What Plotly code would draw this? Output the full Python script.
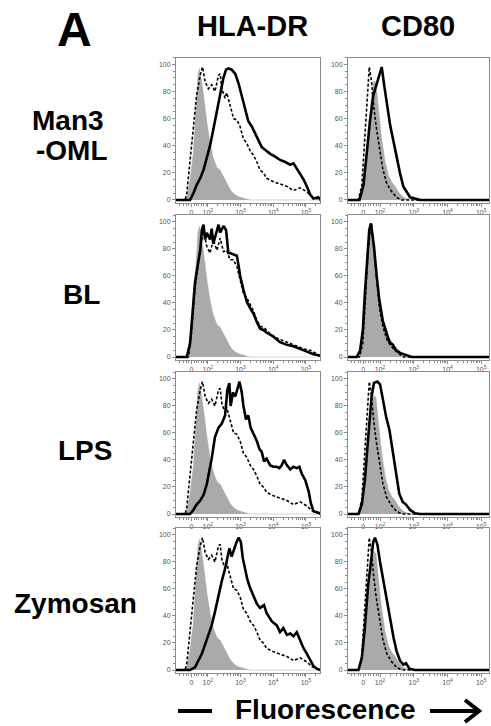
import math
import plotly.graph_objects as go

W, H = 491, 726

# ---------------- text ----------------
COL_TITLES = ["HLA-DR", "CD80"]
ROW_LABELS = [["Man3", "-OML"], ["BL"], ["LPS"], ["Zymosan"]]
X_TICK_VALS = [1.5, 2, 3, 4, 5]
X_TICK_TEXT = ["0", "10<sup>2</sup>", "10<sup>3</sup>", "10<sup>4</sup>", "10<sup>5</sup>"]
Y_TICK_VALS = [0, 20, 40, 60, 80, 100]

# ---------------- data ----------------
# (fluorescence on the logicle display scale in decades, % of max)
HLA_ISO = [(1.03, 0), (1.30, 0), (1.36, 2), (1.46, 15), (1.56, 35), (1.62, 60), (1.66, 80), (1.70, 92),
           (1.75, 97), (1.80, 90), (1.87, 78), (1.97, 58), (2.07, 42), (2.17, 31), (2.28, 24), (2.38, 22),
           (2.48, 17), (2.58, 12), (2.68, 8), (2.78, 5), (2.89, 3), (2.99, 2), (3.14, 1), (3.29, 0), (5.45, 0)]

HLA_CTRL = [(1.03, 0), (1.31, 0), (1.36, 5), (1.46, 28), (1.56, 55), (1.66, 77), (1.77, 92), (1.84, 98),
            (1.92, 87), (2.02, 82), (2.12, 85), (2.22, 80), (2.33, 92), (2.38, 93), (2.43, 82), (2.53, 75),
            (2.58, 79), (2.68, 70), (2.79, 60), (2.89, 59), (2.99, 54), (3.09, 45), (3.19, 42), (3.30, 36),
            (3.40, 33), (3.50, 28), (3.60, 22), (3.70, 20), (3.80, 16), (4.01, 13.5), (4.21, 12), (4.42, 10),
            (4.62, 7), (4.82, 9), (5.03, 6), (5.18, 2.5), (5.33, 1), (5.45, 0)]

HLA_MAN3 = [(1.03, 0), (1.46, 0), (1.56, 5), (1.66, 11), (1.77, 16), (1.87, 22), (1.97, 31), (2.07, 40),
            (2.17, 52), (2.28, 65), (2.38, 77), (2.48, 90), (2.56, 96), (2.63, 97), (2.73, 96), (2.84, 93),
            (2.94, 86), (3.04, 77), (3.14, 66), (3.24, 58), (3.35, 54), (3.45, 49), (3.55, 44), (3.65, 39),
            (3.75, 37), (3.91, 34), (4.06, 32), (4.21, 29.5), (4.37, 28), (4.52, 26), (4.62, 27), (4.72, 23),
            (4.82, 20), (4.93, 15), (5.03, 10), (5.13, 4), (5.23, 1), (5.38, 2), (5.45, 0)]

HLA_BL_CTRL = [(1.03, 0), (1.41, 0), (1.51, 20), (1.56, 35), (1.61, 50), (1.71, 70), (1.82, 86), (1.87, 94),
               (1.97, 82), (2.07, 77), (2.17, 87), (2.28, 79), (2.38, 88), (2.48, 78), (2.58, 79), (2.68, 72),
               (2.78, 72), (2.89, 67), (2.99, 57), (3.09, 47), (3.19, 44), (3.30, 39), (3.40, 34), (3.50, 27),
               (3.60, 23), (3.75, 21), (3.91, 17), (4.11, 14), (4.31, 12), (4.52, 10), (4.72, 8), (4.93, 6),
               (5.13, 5), (5.28, 3), (5.45, 0)]

HLA_BL = [(1.03, 0), (1.36, 0), (1.46, 10), (1.51, 27), (1.56, 42), (1.61, 55), (1.66, 63), (1.77, 79),
          (1.82, 94), (1.87, 98), (1.92, 87), (1.97, 92), (2.07, 87), (2.12, 95), (2.17, 84), (2.28, 94),
          (2.33, 98), (2.38, 92), (2.48, 97), (2.56, 94), (2.63, 77), (2.68, 77), (2.78, 76), (2.89, 75),
          (2.94, 68), (2.99, 60), (3.09, 50), (3.19, 41), (3.30, 36), (3.40, 32), (3.50, 26), (3.60, 21),
          (3.70, 20), (3.80, 18), (4.01, 15), (4.21, 11), (4.42, 9), (4.62, 8), (4.82, 6), (5.03, 4),
          (5.23, 2), (5.45, 1)]

HLA_LPS = [(1.03, 0), (1.46, 0), (1.56, 3), (1.66, 7), (1.77, 10), (1.87, 14), (1.97, 22), (2.07, 33),
           (2.12, 41), (2.22, 57), (2.33, 64), (2.43, 67), (2.53, 73), (2.60, 92), (2.66, 97), (2.70, 80),
           (2.77, 90), (2.84, 87), (2.91, 93), (2.97, 98), (3.04, 90), (3.09, 80), (3.17, 70), (3.24, 73),
           (3.31, 64), (3.40, 59), (3.50, 54), (3.58, 48), (3.65, 46), (3.72, 39), (3.80, 41), (3.91, 36),
           (4.01, 35), (4.11, 35), (4.19, 34), (4.26, 36), (4.33, 40), (4.42, 36), (4.52, 33), (4.62, 35),
           (4.72, 34), (4.80, 35), (4.87, 30), (4.98, 25), (5.08, 17), (5.15, 8), (5.23, 2), (5.38, 1),
           (5.45, 0)]

HLA_ZYM = [(1.03, 0), (1.46, 0), (1.61, 2), (1.71, 7), (1.82, 12), (1.92, 19), (2.02, 26), (2.12, 33),
           (2.22, 43), (2.33, 56), (2.43, 66), (2.53, 75), (2.60, 84), (2.66, 90), (2.73, 84), (2.78, 88),
           (2.87, 94), (2.94, 98), (3.01, 95), (3.07, 83), (3.14, 75), (3.21, 67), (3.29, 61), (3.40, 54),
           (3.50, 49), (3.60, 46), (3.72, 48), (3.80, 42), (3.96, 36), (4.11, 33), (4.21, 28), (4.31, 31),
           (4.42, 26), (4.52, 27), (4.62, 25), (4.72, 28), (4.82, 22), (4.93, 16), (5.03, 12), (5.13, 7),
           (5.23, 3), (5.33, 1), (5.45, 0)]

CD80_ISO = [(1.03, 0), (1.31, 0), (1.41, 4), (1.51, 14), (1.60, 34), (1.68, 58), (1.75, 78), (1.82, 88),
            (1.88, 86), (1.95, 68), (2.05, 45), (2.15, 28), (2.25, 18), (2.35, 13), (2.45, 10), (2.54, 6),
            (2.69, 2), (2.89, 0), (5.25, 0)]

CD80_ISO_BL = [(1.03, 0), (1.35, 0), (1.46, 5), (1.55, 35), (1.62, 65), (1.68, 87), (1.73, 94), (1.78, 84),
               (1.85, 67), (1.95, 42), (2.05, 27), (2.15, 19), (2.25, 15), (2.35, 11), (2.45, 8), (2.59, 4),
               (2.79, 0), (5.25, 0)]

CD80_CTRL = [(1.03, 0), (1.36, 0), (1.46, 11), (1.55, 45), (1.62, 77), (1.68, 98), (1.75, 87), (1.80, 72),
             (1.88, 55), (1.98, 38), (2.08, 23), (2.20, 12), (2.35, 6), (2.49, 2), (2.64, 0), (5.25, 0)]

CD80_MAN3 = [(1.03, 0), (1.39, 0), (1.51, 11), (1.60, 33), (1.70, 58), (1.80, 77), (1.90, 86), (1.98, 92),
             (2.05, 98), (2.12, 85), (2.20, 70), (2.30, 55), (2.40, 43), (2.49, 31), (2.59, 20), (2.69, 10),
             (2.79, 6), (2.89, 2), (3.04, 1), (3.19, 0), (5.25, 0)]

CD80_BL_CTRL = [(1.03, 0), (1.39, 0), (1.49, 10), (1.57, 45), (1.65, 79), (1.70, 92), (1.75, 98), (1.80, 84),
                (1.88, 62), (1.98, 37), (2.08, 23), (2.20, 13), (2.30, 9), (2.40, 6), (2.54, 3), (2.69, 0),
                (5.25, 0)]

CD80_BL = [(1.03, 0), (1.31, 0), (1.41, 5), (1.49, 20), (1.55, 47), (1.62, 77), (1.68, 94), (1.73, 99),
           (1.78, 89), (1.82, 82), (1.90, 60), (1.98, 42), (2.08, 27), (2.18, 18), (2.28, 11), (2.38, 9),
           (2.47, 5), (2.59, 3), (2.74, 1.5), (2.94, 0), (5.25, 0)]

CD80_LPS = [(1.03, 0), (1.36, 0), (1.46, 7), (1.55, 25), (1.65, 57), (1.75, 87), (1.82, 97), (1.92, 98),
            (2.00, 96), (2.08, 85), (2.18, 72), (2.28, 62), (2.35, 50), (2.42, 40), (2.49, 28), (2.57, 15),
            (2.67, 9), (2.77, 7), (2.89, 3), (3.04, 0.5), (3.19, 0), (5.25, 0)]

CD80_ZYM = [(1.03, 0), (1.36, 0), (1.46, 9), (1.55, 31), (1.65, 63), (1.73, 83), (1.80, 95), (1.85, 98),
            (1.92, 93), (2.00, 80), (2.10, 66), (2.20, 51), (2.30, 36), (2.40, 24), (2.49, 14), (2.59, 7),
            (2.69, 4), (2.77, 5), (2.87, 1), (3.04, 0), (5.25, 0)]

# panel contents: (isotype filled, control dashed, stimulated solid)
PANELS = [
    [(HLA_ISO, HLA_CTRL, HLA_MAN3), (CD80_ISO, CD80_CTRL, CD80_MAN3)],
    [(HLA_ISO, HLA_BL_CTRL, HLA_BL), (CD80_ISO_BL, CD80_BL_CTRL, CD80_BL)],
    [(HLA_ISO, HLA_CTRL, HLA_LPS), (CD80_ISO, CD80_CTRL, CD80_LPS)],
    [(HLA_ISO, HLA_CTRL, HLA_ZYM), (CD80_ISO, CD80_CTRL, CD80_ZYM)],
]

# ---------------- geometry (pixels) ----------------
COL_X = [(176, 320), (348, 489)]
X_RANGES = [(1.03, 5.43), (1.05, 5.23)]
ROW_Y = [(57.5, 202.7), (215.2, 359.7), (372.2, 516.7), (528.2, 672.7)]
Y_RANGE = (-2, 105)

FONT = "Liberation Sans, Arial, Helvetica, sans-serif"
GREY_FILL = "#aaaaaa"
AXIS_GREY = "#8c8c8c"
TICK_FONT = dict(family=FONT, size=7, color="#555555")

X_MINOR = [1.15, 1.25, 1.35, 1.42, 1.58, 1.65, 1.72, 1.8, 1.88, 1.95]
for k in (2, 3, 4):
    for m in range(2, 10):
        X_MINOR.append(k + math.log10(m))
X_MINOR.append(5 + math.log10(2))


def px(x):
    return x / W


def py(y):
    return 1 - y / H


def xy(pts):
    return [p[0] for p in pts], [p[1] for p in pts]


fig = go.Figure()
layout = {}
for r in range(4):
    for c in range(2):
        k = r * 2 + c + 1
        xa = "x" if k == 1 else f"x{k}"
        ya = "y" if k == 1 else f"y{k}"
        iso, ctrl, stim = PANELS[r][c]
        gx, gy = xy(iso)
        fig.add_trace(go.Scatter(x=gx, y=gy, mode="lines", fill="tozeroy", fillcolor=GREY_FILL,
                                 line=dict(color=GREY_FILL, width=0.5), xaxis=xa, yaxis=ya,
                                 showlegend=False, hoverinfo="skip"))
        dx, dy = xy(ctrl)
        fig.add_trace(go.Scatter(x=dx, y=dy, mode="lines",
                                 line=dict(color="black", width=1.6, dash="3px,2px"),
                                 xaxis=xa, yaxis=ya, showlegend=False, hoverinfo="skip"))
        sx, sy = xy(stim)
        fig.add_trace(go.Scatter(x=sx, y=sy, mode="lines",
                                 line=dict(color="black", width=2.6),
                                 xaxis=xa, yaxis=ya, showlegend=False, hoverinfo="skip"))
        x0, x1 = COL_X[c]
        y0, y1 = ROW_Y[r]
        layout["xaxis" if k == 1 else f"xaxis{k}"] = dict(
            domain=[px(x0), px(x1)], range=list(X_RANGES[c]), anchor=ya,
            showgrid=False, zeroline=False, showline=True, mirror=True,
            linecolor=AXIS_GREY, linewidth=1, ticks="outside", ticklen=3, tickcolor=AXIS_GREY,
            tickvals=X_TICK_VALS, ticktext=X_TICK_TEXT, tickfont=TICK_FONT,
            minor=dict(tickvals=X_MINOR, ticks="outside", ticklen=2, tickcolor=AXIS_GREY),
        )
        layout["yaxis" if k == 1 else f"yaxis{k}"] = dict(
            domain=[py(y1), py(y0)], range=list(Y_RANGE), anchor=xa,
            showgrid=False, zeroline=False, showline=True, mirror=True,
            linecolor=AXIS_GREY, linewidth=1, ticks="outside", ticklen=3, tickcolor=AXIS_GREY,
            tickvals=Y_TICK_VALS, tickfont=TICK_FONT,
            minor=dict(dtick=5, ticks="outside", ticklen=2, tickcolor=AXIS_GREY),
        )

annotations = []


def label(text, x, y, size):
    annotations.append(dict(text=f"<b>{text}</b>", x=px(x), y=py(y), xref="paper", yref="paper",
                            xanchor="center", yanchor="middle", showarrow=False,
                            font=dict(family=FONT, size=size, color="black")))


label("A", 74, 29, 48)
label(COL_TITLES[0], 252, 26, 29)
label(COL_TITLES[1], 418, 26, 29)
label(ROW_LABELS[0][0], 68, 120, 28)
label(ROW_LABELS[0][1], 72, 151, 28)
label(ROW_LABELS[1][0], 81, 294, 28)
label(ROW_LABELS[2][0], 85, 450, 28)
label(ROW_LABELS[3][0], 75, 603, 28)
label("Fluorescence", 325, 709, 28)

shapes = [
    dict(type="line", xref="paper", yref="paper", x0=px(178), x1=px(212), y0=py(711), y1=py(711),
         line=dict(color="black", width=4)),
    dict(type="line", xref="paper", yref="paper", x0=px(430), x1=px(477), y0=py(711), y1=py(711),
         line=dict(color="black", width=4)),
    dict(type="path", xref="paper", yref="paper",
         path=f"M {px(465)} {py(700)} L {px(479)} {py(711)} L {px(465)} {py(722)}",
         line=dict(color="black", width=4)),
]

fig.update_layout(width=W, height=H, margin=dict(l=0, r=0, t=0, b=0),
                  paper_bgcolor="white", plot_bgcolor="white",
                  annotations=annotations, shapes=shapes, **layout)
fig.write_html("out.html", config={"displayModeBar": False},
               post_script="document.body.style.margin='0';")
